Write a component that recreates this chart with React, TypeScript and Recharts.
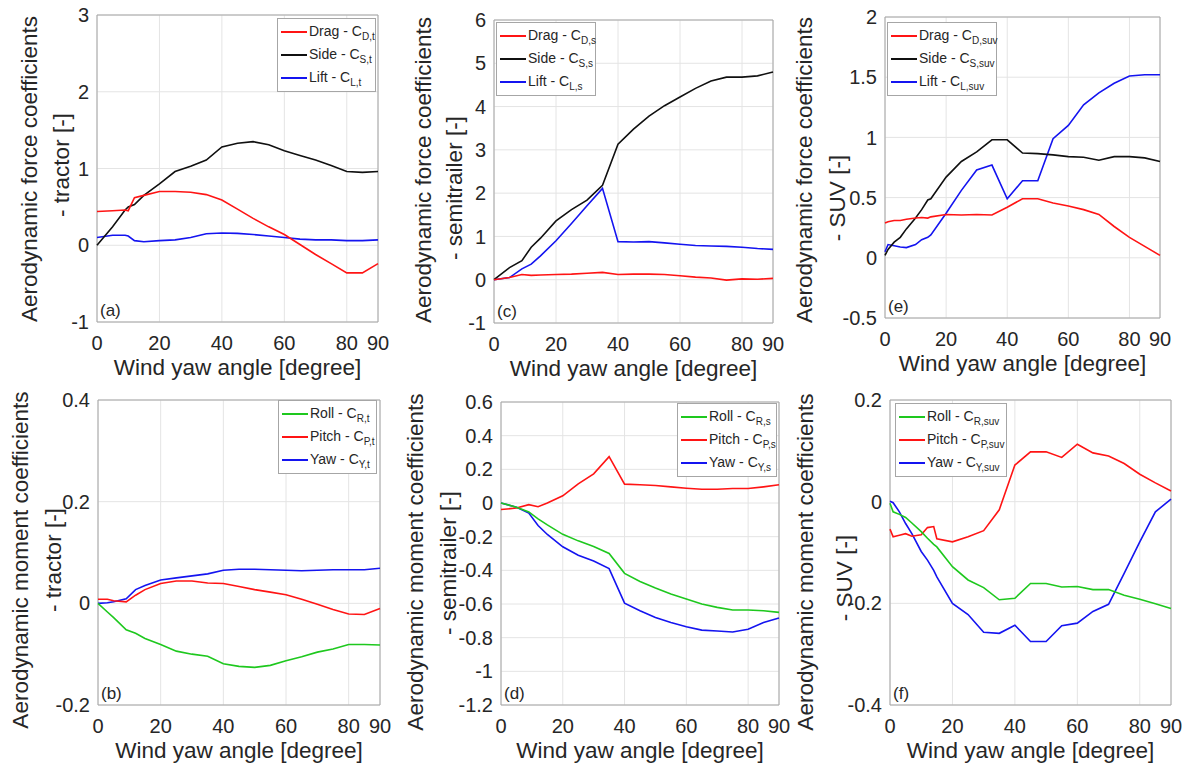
import React from 'react';
import { LineChart, Line, XAxis, YAxis, CartesianGrid, ReferenceArea } from 'recharts';

const FONT = '"Liberation Sans", Arial, Helvetica, sans-serif';
const RED = '#ff1414';
const BLACK = '#101010';
const BLUE = '#1414f0';
const GREEN = '#1ec81e';
const TXT = '#262626';

const xTicks = [0, 20, 40, 60, 80, 90];

// (a) tractor forces
const anglesA = [0, 5, 9, 10, 12, 15, 20, 25, 30, 35, 40, 45, 50, 55, 60, 65, 70, 75, 80, 85, 90];
const dragA = [0.44, 0.45, 0.46, 0.45, 0.62, 0.65, 0.7, 0.7, 0.69, 0.66, 0.59, 0.47, 0.35, 0.24, 0.14, 0.01, -0.12, -0.24, -0.36, -0.36, -0.24];
const sideA = [0, 0.24, 0.46, 0.5, 0.53, 0.65, 0.8, 0.96, 1.03, 1.11, 1.28, 1.33, 1.35, 1.31, 1.23, 1.17, 1.11, 1.04, 0.96, 0.95, 0.96];
const liftA = [0.1, 0.13, 0.13, 0.12, 0.06, 0.045, 0.06, 0.07, 0.1, 0.15, 0.16, 0.155, 0.14, 0.12, 0.1, 0.08, 0.07, 0.07, 0.06, 0.06, 0.07];
const yTicksA = [-1, 0, 1, 2, 3];

// (c) semitrailer forces
const anglesC = [0, 5, 9, 12, 15, 20, 25, 30, 35, 40, 45, 50, 55, 60, 65, 70, 75, 80, 85, 90];
const dragC = [0, 0.05, 0.12, 0.1, 0.11, 0.12, 0.13, 0.15, 0.17, 0.12, 0.13, 0.13, 0.12, 0.09, 0.06, 0.04, -0.01, 0.02, 0.01, 0.03];
const sideC = [0, 0.28, 0.44, 0.75, 0.96, 1.36, 1.62, 1.84, 2.18, 3.13, 3.48, 3.78, 4.02, 4.22, 4.42, 4.59, 4.68, 4.68, 4.71, 4.8];
const liftC = [0, 0.05, 0.25, 0.36, 0.55, 0.9, 1.3, 1.71, 2.11, 0.88, 0.87, 0.88, 0.85, 0.82, 0.79, 0.78, 0.77, 0.75, 0.72, 0.7];
const yTicksC = [-1, 0, 1, 2, 3, 4, 5, 6];

// (e) SUV forces
const anglesE = [0, 1, 3, 5, 7, 10, 12, 14, 15, 20, 25, 30, 35, 40, 45, 50, 55, 60, 65, 70, 75, 80, 85, 90];
const dragE = [0.29, 0.3, 0.31, 0.31, 0.32, 0.33, 0.335, 0.33, 0.34, 0.36, 0.355, 0.36, 0.355, 0.42, 0.49, 0.49, 0.455, 0.43, 0.4, 0.36, 0.26, 0.17, 0.095, 0.02];
const sideE = [0.02, 0.07, 0.13, 0.17, 0.24, 0.33, 0.4, 0.48, 0.49, 0.67, 0.8, 0.88, 0.98, 0.98, 0.87, 0.865, 0.855, 0.84, 0.835, 0.81, 0.84, 0.84, 0.83, 0.8];
const liftE = [0.05, 0.11, 0.1, 0.09, 0.085, 0.11, 0.15, 0.17, 0.19, 0.37, 0.56, 0.73, 0.77, 0.49, 0.64, 0.64, 0.99, 1.1, 1.27, 1.37, 1.45, 1.51, 1.52, 1.52];
const yTicksE = [-0.5, 0, 0.5, 1, 1.5, 2];

// (b) tractor moments
const anglesB = [0, 3, 5, 9, 12, 15, 20, 25, 30, 35, 40, 45, 50, 55, 60, 65, 70, 75, 80, 85, 90];
const rollB = [0, -0.017, -0.028, -0.052, -0.059, -0.069, -0.081, -0.094, -0.1, -0.104, -0.119, -0.124, -0.126, -0.122, -0.113, -0.105, -0.096, -0.09, -0.081, -0.081, -0.082];
const pitchB = [0.008, 0.008, 0.005, 0.003, 0.016, 0.027, 0.039, 0.044, 0.044, 0.04, 0.039, 0.033, 0.027, 0.022, 0.017, 0.008, -0.002, -0.012, -0.021, -0.022, -0.01];
const yawB = [0, 0.001, 0.003, 0.009, 0.027, 0.035, 0.046, 0.05, 0.054, 0.058, 0.065, 0.067, 0.067, 0.066, 0.065, 0.064, 0.065, 0.066, 0.066, 0.066, 0.069];
const yTicksB = [-0.2, 0, 0.2, 0.4];

// (d) semitrailer moments
const anglesD = [0, 5, 9, 12, 15, 20, 25, 30, 35, 40, 45, 50, 55, 60, 65, 70, 75, 80, 85, 90];
const rollD = [0, -0.025, -0.053, -0.094, -0.13, -0.186, -0.225, -0.259, -0.3, -0.418, -0.466, -0.505, -0.54, -0.57, -0.6, -0.62, -0.636, -0.636, -0.64, -0.65];
const pitchD = [-0.039, -0.03, -0.01, -0.022, 0, 0.043, 0.114, 0.173, 0.275, 0.112, 0.108, 0.104, 0.096, 0.088, 0.082, 0.082, 0.086, 0.086, 0.096, 0.108];
const yawD = [0, -0.025, -0.06, -0.134, -0.187, -0.26, -0.31, -0.345, -0.39, -0.595, -0.64, -0.68, -0.71, -0.735, -0.755, -0.76, -0.766, -0.75, -0.71, -0.683];
const yTicksD = [-1.2, -1, -0.8, -0.6, -0.4, -0.2, 0, 0.2, 0.4, 0.6];

// (f) SUV moments
const anglesF = [0, 1, 3, 5, 7, 10, 12, 14, 15, 20, 25, 30, 35, 40, 45, 50, 55, 60, 65, 70, 75, 80, 85, 90];
const rollF = [-0.003, -0.02, -0.025, -0.031, -0.042, -0.059, -0.072, -0.084, -0.089, -0.128, -0.154, -0.169, -0.193, -0.19, -0.161, -0.161, -0.168, -0.167, -0.173, -0.173, -0.184, -0.192, -0.201, -0.21];
const pitchF = [-0.054, -0.069, -0.066, -0.063, -0.068, -0.065, -0.051, -0.049, -0.073, -0.079, -0.069, -0.057, -0.016, 0.072, 0.098, 0.098, 0.087, 0.113, 0.096, 0.09, 0.075, 0.054, 0.037, 0.021];
const yawF = [0.001, -0.002, -0.02, -0.043, -0.063, -0.098, -0.115, -0.135, -0.148, -0.2, -0.222, -0.257, -0.259, -0.243, -0.275, -0.275, -0.244, -0.239, -0.216, -0.202, -0.141, -0.079, -0.02, 0.005];
const yTicksF = [-0.4, -0.2, 0, 0.2];

type Series = { key: string; name: string; sub: string; color: string; values: number[] };
type PanelDef = {
  plot: [number, number, number, number];
  angles: number[];
  series: Series[];
  yTicks: number[];
  title1: string;
  title2: string;
  t1: [number, number];
  t2: [number, number];
  legend: [number, number, number];
  letter: string;
};

const FORCE1 = 'Aerodynamic force coefficients';
const MOMENT1 = 'Aerodynamic moment coefficients';

const panels: PanelDef[] = [
  {
    plot: [97, 15, 378, 322], angles: anglesA, yTicks: yTicksA, letter: '(a)',
    title1: FORCE1, title2: '- tractor [-]', t1: [30, 169], t2: [62, 165], legend: [277, 18, 99],
    series: [
      { key: 'drag', name: 'Drag - C', sub: 'D,t', color: RED, values: dragA },
      { key: 'side', name: 'Side - C', sub: 'S,t', color: BLACK, values: sideA },
      { key: 'lift', name: 'Lift - C', sub: 'L,t', color: BLUE, values: liftA },
    ],
  },
  {
    plot: [494, 20, 773, 323], angles: anglesC, yTicks: yTicksC, letter: '(c)',
    title1: FORCE1, title2: '- semitrailer [-]', t1: [424, 170], t2: [455, 188], legend: [496, 22, 100],
    series: [
      { key: 'drag', name: 'Drag - C', sub: 'D,s', color: RED, values: dragC },
      { key: 'side', name: 'Side - C', sub: 'S,s', color: BLACK, values: sideC },
      { key: 'lift', name: 'Lift - C', sub: 'L,s', color: BLUE, values: liftC },
    ],
  },
  {
    plot: [885, 17, 1160, 318], angles: anglesE, yTicks: yTicksE, letter: '(e)',
    title1: FORCE1, title2: '- SUV [-]', t1: [805, 170], t2: [838, 198], legend: [887, 22, 110],
    series: [
      { key: 'drag', name: 'Drag - C', sub: 'D,suv', color: RED, values: dragE },
      { key: 'side', name: 'Side - C', sub: 'S,suv', color: BLACK, values: sideE },
      { key: 'lift', name: 'Lift - C', sub: 'L,suv', color: BLUE, values: liftE },
    ],
  },
  {
    plot: [98, 400, 380, 705], angles: anglesB, yTicks: yTicksB, letter: '(b)',
    title1: MOMENT1, title2: '- tractor [-]', t1: [21, 560], t2: [54, 560], legend: [278, 400, 99],
    series: [
      { key: 'roll', name: 'Roll - C', sub: 'R,t', color: GREEN, values: rollB },
      { key: 'pitch', name: 'Pitch - C', sub: 'P,t', color: RED, values: pitchB },
      { key: 'yaw', name: 'Yaw - C', sub: 'Y,t', color: BLUE, values: yawB },
    ],
  },
  {
    plot: [501, 402, 779, 705], angles: anglesD, yTicks: yTicksD, letter: '(d)',
    title1: MOMENT1, title2: '- semitrailer [-]', t1: [416, 562], t2: [449, 563], legend: [677, 403, 100],
    series: [
      { key: 'roll', name: 'Roll - C', sub: 'R,s', color: GREEN, values: rollD },
      { key: 'pitch', name: 'Pitch - C', sub: 'P,s', color: RED, values: pitchD },
      { key: 'yaw', name: 'Yaw - C', sub: 'Y,s', color: BLUE, values: yawD },
    ],
  },
  {
    plot: [890, 400, 1171, 705], angles: anglesF, yTicks: yTicksF, letter: '(f)',
    title1: MOMENT1, title2: '- SUV [-]', t1: [806, 562], t2: [845, 578], legend: [895, 403, 112],
    series: [
      { key: 'roll', name: 'Roll - C', sub: 'R,suv', color: GREEN, values: rollF },
      { key: 'pitch', name: 'Pitch - C', sub: 'P,suv', color: RED, values: pitchF },
      { key: 'yaw', name: 'Yaw - C', sub: 'Y,suv', color: BLUE, values: yawF },
    ],
  },
];

const GUT = 70;
const PADT = 12;
const PADR = 12;
const XH = 44;

const fmt = (v: number) => String(Number(v.toFixed(3)));

function RotTitle({ x, y, text }: { x: number; y: number; text: string }) {
  return (
    <div style={{ position: 'absolute', left: x, top: y, width: 0, height: 0 }}>
      <div
        style={{
          position: 'absolute', left: 0, top: 0, whiteSpace: 'nowrap', fontSize: 22.5, lineHeight: 1,
          color: TXT, transform: 'translate(-50%, -50%) rotate(-90deg)',
        }}
      >
        {text}
      </div>
    </div>
  );
}

function LegendBox({ pos, series }: { pos: [number, number, number]; series: Series[] }) {
  const [l, t, w] = pos;
  const rows = [13, 36, 59];
  return (
    <div
      style={{
        position: 'absolute', left: l, top: t, width: w, height: 74, background: '#fff',
        border: '1px solid #a6a6a6', boxSizing: 'border-box',
      }}
    >
      {series.map((s, i) => (
        <div
          key={s.key}
          style={{ position: 'absolute', left: 0, top: rows[i] - 9, height: 18, display: 'flex', alignItems: 'center', whiteSpace: 'nowrap' }}
        >
          <div style={{ width: 26, height: 1.6, background: s.color, marginLeft: 3, marginRight: 2 }} />
          <span style={{ fontSize: 14, color: TXT, lineHeight: '18px' }}>
            {s.name}
            <span style={{ fontSize: 10, position: 'relative', top: 4 }}>{s.sub}</span>
          </span>
        </div>
      ))}
    </div>
  );
}

function Panel({ p }: { p: PanelDef }) {
  const [L, T, R, B] = p.plot;
  const w = R - L;
  const h = B - T;
  const yDomain: [number, number] = [p.yTicks[0], p.yTicks[p.yTicks.length - 1]];
  const data = p.angles.map((a, i) => {
    const row: Record<string, number> = { angle: a };
    p.series.forEach((s) => { row[s.key] = s.values[i]; });
    return row;
  });
  const ordered = [...p.series].reverse();
  return (
    <>
      <div style={{ position: 'absolute', left: L - GUT, top: T - PADT }}>
        <LineChart width={w + GUT + PADR} height={h + PADT + XH} data={data} margin={{ top: PADT, right: PADR, bottom: 0, left: 0 }}>
          <CartesianGrid stroke="#e4e4e4" strokeWidth={1} />
          <XAxis
            dataKey="angle" type="number" domain={[0, 90]} ticks={xTicks} interval={0} height={XH}
            tickLine={false} axisLine={false} tickSize={6} tickMargin={8}
            tick={{ fontSize: 20, fill: TXT }}
          />
          <YAxis
            type="number" domain={yDomain} ticks={p.yTicks} interval={0} width={GUT}
            tickLine={false} axisLine={false} tickSize={6} tickMargin={2}
            tick={{ fontSize: 20, fill: TXT }} tickFormatter={fmt} allowDataOverflow
          />
          <ReferenceArea x1={0} x2={90} y1={yDomain[0]} y2={yDomain[1]} fill="none" fillOpacity={0} stroke="#a6a6a6" strokeWidth={1} />
          {ordered.map((s) => (
            <Line
              key={s.key} dataKey={s.key} name={s.name} type="linear" stroke={s.color} strokeWidth={1.6}
              dot={false} activeDot={false} isAnimationActive={false}
            />
          ))}
        </LineChart>
      </div>
      <RotTitle x={p.t1[0]} y={p.t1[1]} text={p.title1} />
      <RotTitle x={p.t2[0]} y={p.t2[1]} text={p.title2} />
      <div
        style={{
          position: 'absolute', left: L, width: w, top: B + 54 - 19, textAlign: 'center', fontSize: 22.5,
          lineHeight: 1, color: TXT, whiteSpace: 'nowrap',
        }}
      >
        Wind yaw angle [degree]
      </div>
      <div style={{ position: 'absolute', left: L + 3, top: B - 20, fontSize: 17, lineHeight: 1, color: TXT }}>{p.letter}</div>
      <LegendBox pos={p.legend} series={p.series} />
    </>
  );
}

export default function App() {
  return (
    <div
      style={{
        position: 'absolute', left: 0, top: 0, width: 1190, height: 770, background: '#fff',
        fontFamily: FONT, overflow: 'hidden',
      }}
    >
      {panels.map((p) => (
        <Panel key={p.letter} p={p} />
      ))}
    </div>
  );
}
